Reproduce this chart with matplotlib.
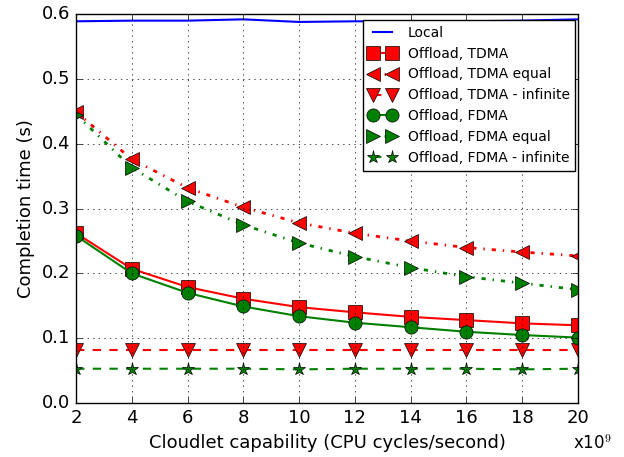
import numpy as np
import matplotlib
matplotlib.use('Agg')
import matplotlib.pyplot as plt

plt.style.use('classic')

# cloudlet capability, in units of 1e9 cycles/s
cap = [2, 4, 6, 8, 10, 12, 14, 16, 18, 20]

local = [0.589, 0.590, 0.590, 0.592, 0.588, 0.589, 0.589, 0.589, 0.590, 0.592]
tdma = [0.262, 0.207, 0.179, 0.161, 0.148, 0.140, 0.133, 0.128, 0.123, 0.120]
tdma_equal = [0.449, 0.376, 0.332, 0.302, 0.278, 0.262, 0.250, 0.240, 0.233, 0.227]
tdma_inf = [0.082, 0.082, 0.082, 0.082, 0.082, 0.082, 0.082, 0.082, 0.082, 0.082]
fdma = [0.258, 0.200, 0.170, 0.149, 0.134, 0.124, 0.117, 0.110, 0.105, 0.101]
fdma_equal = [0.445, 0.363, 0.311, 0.275, 0.247, 0.226, 0.209, 0.195, 0.185, 0.175]
fdma_inf = [0.053, 0.053, 0.053, 0.053, 0.052, 0.053, 0.053, 0.053, 0.052, 0.053]

fig = plt.figure(figsize=(6.24, 4.57), dpi=100)
ax = fig.add_axes([0.122, 0.118, 0.804, 0.851])

ms = 9.5
ax.plot(cap, local, 'b-', lw=1.5, label='Local')
ax.plot(cap, tdma, 'r-s', lw=1.5, ms=ms, label='Offload, TDMA')
ax.plot(cap, tdma_equal, 'r-.<', lw=2, ms=ms, label='Offload, TDMA equal')
ax.plot(cap, tdma_inf, 'r--v', lw=1.5, ms=ms, label='Offload, TDMA - infinite')
ax.plot(cap, fdma, 'g-o', lw=1.5, ms=ms, label='Offload, FDMA')
ax.plot(cap, fdma_equal, 'g-.>', lw=2, ms=ms, label='Offload, FDMA equal')
ax.plot(cap, fdma_inf, 'g--*', lw=1.5, ms=ms, label='Offload, FDMA - infinite')

ax.set_xlim(2, 20)
ax.set_ylim(0, 0.6)
ax.set_xticks(cap)
ax.set_yticks(np.arange(0, 0.61, 0.1))
ax.grid(True)
ax.tick_params(labelsize=13)
ax.set_xlabel('Cloudlet capability (CPU cycles/second)', fontsize=13)
ax.set_ylabel('Completion time (s)', fontsize=13)
ax.text(0.99, -0.08, 'x10$^9$', transform=ax.transAxes, fontsize=12, ha='left', va='top')

ax.legend(loc='upper right', bbox_to_anchor=(0.995, 0.985), borderaxespad=0,
          fontsize=10, numpoints=2, handlelength=2, labelspacing=0.5)

plt.savefig('out.png', dpi=100)
